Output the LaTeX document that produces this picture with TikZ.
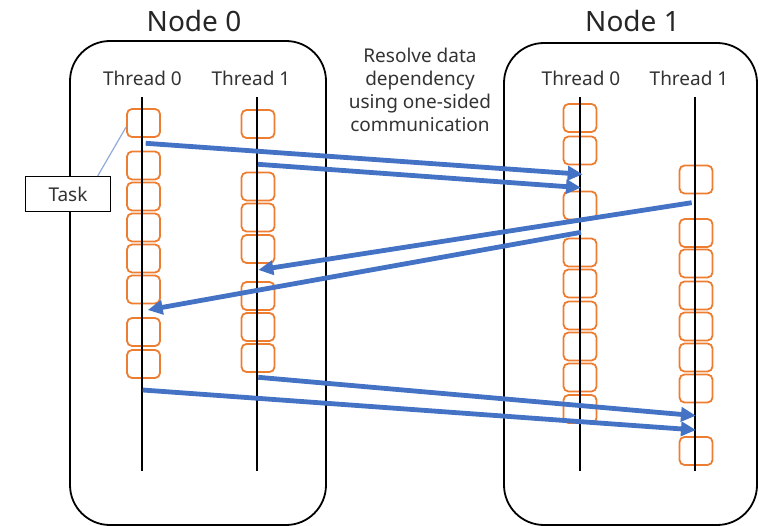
\documentclass[tikz,border=0pt]{standalone}
\usepackage{fontspec}
\setmainfont{Noto Sans}
\usetikzlibrary{arrows.meta,calc}
\definecolor{taskorange}{HTML}{ED7D31}
\definecolor{arrowblue}{HTML}{4472C4}
\definecolor{leaderblue}{HTML}{8FAADC}
\begin{document}
\begin{tikzpicture}[x=1pt,y=-1pt,
  nodebox/.style={draw=black,line width=1.8pt,rounded corners=40pt,inner sep=0pt},
  threadline/.style={draw=black,line width=1.8pt},
  taskbox/.style={draw=taskorange,line width=1.8pt,rounded corners=5pt,minimum width=33pt,minimum height=28pt,inner sep=0pt},
  comm/.style={draw=arrowblue,line width=4.8pt,-{Triangle[length=15pt,width=14pt]}},
  biglabel/.style={anchor=base,inner sep=0pt,font=\fontsize{28}{34}\selectfont,text=black!85},
  thrlabel/.style={anchor=base,inner sep=0pt,font=\fontsize{19}{23}\selectfont,text=black!80},
  callout/.style={draw=black,line width=1pt,fill=white,minimum width=85pt,minimum height=35pt,inner sep=0pt,font=\fontsize{19}{23}\selectfont,text=black!80}
]
\useasboundingbox (0,0) rectangle (759,526);

% node enclosures
\node[nodebox,minimum width=256pt,minimum height=484pt] (node0) at (198,283) {};
\node[nodebox,minimum width=253pt,minimum height=482pt] (node1) at (630.5,284) {};

% titles
\node[biglabel] (node0title) at (194,31.5) {Node 0};
\node[biglabel] (node1title) at (632.5,31.5) {Node 1};
\node[thrlabel] (l0t0) at (142.5,86) {Thread 0};
\node[thrlabel] (l0t1) at (251,86) {Thread 1};
\node[thrlabel] (l1t0) at (581,86) {Thread 0};
\node[thrlabel] (l1t1) at (689,86) {Thread 1};
\node[anchor=north,inner sep=0pt,align=center,font=\fontsize{19}{23}\selectfont,text=black!80] (note) at (420,47.5)
  {Resolve data\\dependency\\using one-sided\\communication};

% task boxes
\foreach \y [count=\i] in {123,165.5,196.5,227.5,258.5,289.5,332,364}
  \node[taskbox] (a\i) at (143.5,\y) {};
\foreach \y [count=\i] in {124,186.5,217.5,249,296,327,358}
  \node[taskbox] (b\i) at (258,\y) {};
\foreach \y [count=\i] in {118,150.5,205.5,252.5,283.5,315.5,346.5,377.5,409}
  \node[taskbox] (c\i) at (580,\y) {};
\foreach \y [count=\i] in {179.5,233,263.5,295.5,326.5,357.5,388.5,451}
  \node[taskbox] (d\i) at (696,\y) {};

% thread lines
\coordinate (t0top) at (142,97);   \coordinate (t0bot) at (142,471);
\coordinate (t1top) at (257,97);   \coordinate (t1bot) at (257,471);
\coordinate (t2top) at (580,97);   \coordinate (t2bot) at (580,471);
\coordinate (t3top) at (695.3,97); \coordinate (t3bot) at (695.3,471);
\draw[threadline] (t0top) -- (t0bot);
\draw[threadline] (t1top) -- (t1bot);
\draw[threadline] (t2top) -- (t2bot);
\draw[threadline] (t3top) -- (t3bot);

% communication arrows
\coordinate (s1) at (145.7,143.3); \coordinate (e1) at (582.7,174.3);
\coordinate (s2) at (258,164.3);   \coordinate (e2) at (581,187.7);
\coordinate (s3) at (691.7,202.7); \coordinate (e3) at (258.3,270);
\coordinate (s4) at (581,232.3);   \coordinate (e4) at (147.7,310);
\coordinate (s5) at (258.3,377.3); \coordinate (e5) at (696,415.7);
\coordinate (s6) at (142.7,390);   \coordinate (e6) at (696,430);
\draw[comm] (s1) -- (e1);
\draw[comm] (s2) -- (e2);
\draw[comm] (s3) -- (e3);
\draw[comm] (s4) -- (e4);
\draw[comm] (s5) -- (e5);
\draw[comm] (s6) -- (e6);

% task callout
\node[callout] (tasklabel) at (68,194) {Task};
\coordinate (leadstart) at (97.7,176);
\draw[leaderblue,line width=1.2pt] (leadstart) -- ([yshift=-4pt]a1.west);
\end{tikzpicture}
\end{document}
